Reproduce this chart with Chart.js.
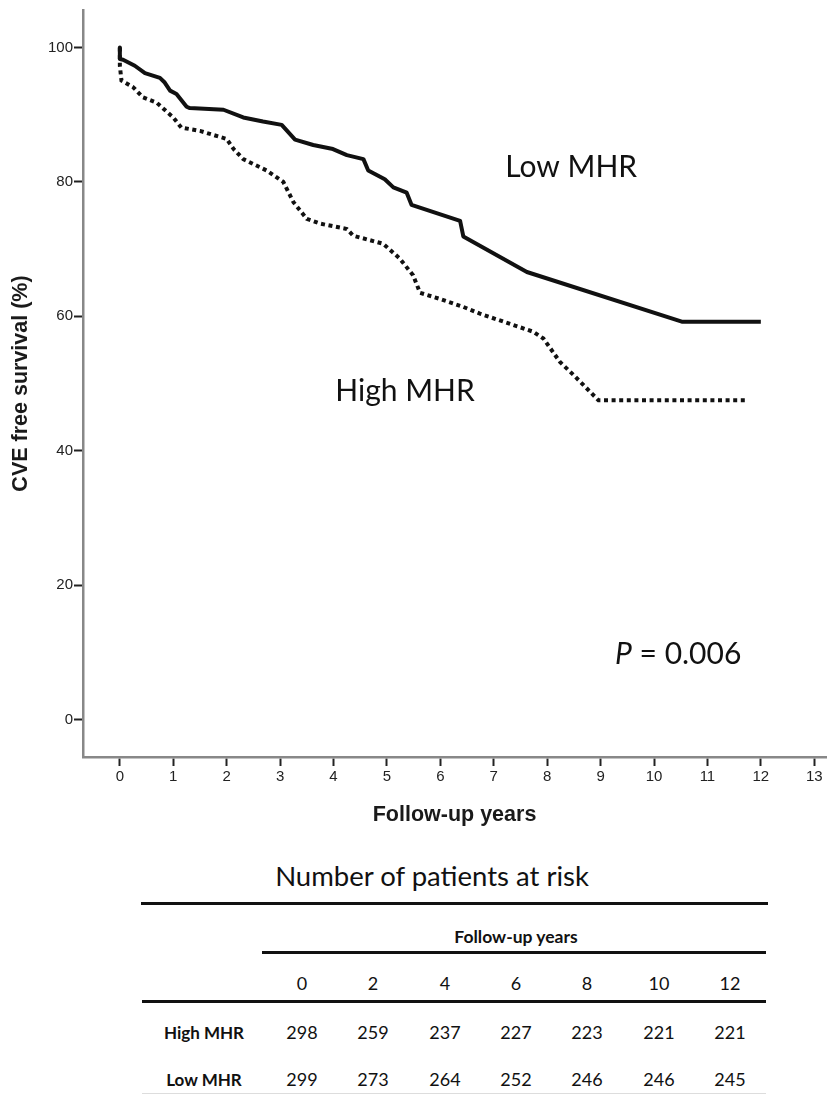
<!DOCTYPE html>
<html>
<head>
<meta charset="utf-8">
<script src="https://cdn.jsdelivr.net/npm/chart.js@4.4.0/dist/chart.umd.min.js"></script>
<style>
  body { margin: 0; background: #fff; }
  #wrap { position: relative; width: 829px; height: 1096px; overflow: hidden; }
  #km { position: absolute; left: 0; top: 0; }
  .t { position: absolute; font-family: Lato, "Noto Sans", sans-serif; color: #111; white-space: nowrap; transform: translate(-50%, -50%); }
  .rule { position: absolute; background: #111; height: 2.5px; }
</style>
</head>
<body>
<div id="wrap">
  <canvas id="km" width="829" height="845"></canvas>
</div>
<script>
// Kaplan-Meier curves (years, % free of CVE)
const lowYears = [0, 0, 0.06, 0.28, 0.47, 0.75, 0.84, 0.94, 1.06, 1.25, 1.31, 1.94, 2.31, 2.68, 3.03, 3.28, 3.62, 3.99, 4.25, 4.56, 4.65, 4.96, 5.12, 5.37, 5.46, 6.37, 6.43, 7.62, 10.52, 12.0];
const lowSurv = [100, 98.3, 98.2, 97.3, 96.2, 95.5, 94.8, 93.6, 93.1, 91.2, 91.0, 90.75, 89.6, 89.0, 88.5, 86.3, 85.5, 84.9, 84.0, 83.4, 81.7, 80.4, 79.2, 78.4, 76.6, 74.2, 71.9, 66.6, 59.2, 59.2];

const highYears = [0, 0, 0.03, 0.25, 0.43, 0.69, 1.0, 1.15, 1.5, 2.0, 2.13, 2.31, 2.75, 3.06, 3.25, 3.5, 3.75, 4.25, 4.37, 4.93, 5.24, 5.49, 5.62, 5.99, 6.43, 6.74, 7.74, 7.93, 8.24, 8.49, 8.96, 11.7];
const highSurv = [100, 97.3, 95.1, 94.1, 92.6, 91.8, 89.6, 88.1, 87.6, 86.4, 84.9, 83.4, 81.7, 80.0, 77.0, 74.5, 73.8, 73.0, 72.0, 70.8, 68.6, 66.1, 63.5, 62.6, 61.4, 60.4, 57.7, 56.7, 53.2, 51.3, 47.5, 47.5];

const xTicks = [0, 1, 2, 3, 4, 5, 6, 7, 8, 9, 10, 11, 12, 13];
const yTicks = [0, 20, 40, 60, 80, 100];

// number at risk table
const riskYears = [0, 2, 4, 6, 8, 10, 12];
const riskGroups = ["High MHR", "Low MHR"];
const riskHigh = [298, 259, 237, 227, 223, 221, 221];
const riskLow = [299, 273, 264, 252, 246, 246, 245];

function pts(xs, ys) {
  return xs.map((x, i) => ({ x: x, y: ys[i] }));
}

// text notes inside the plot, placed in data units
const notes = [
  { parts: [["Low MHR", "normal"]], x: 8.45, y: 82.2, align: "center" },
  { parts: [["High MHR", "normal"]], x: 5.34, y: 48.8, align: "center" },
  { parts: [["P", "italic"], [" = 0.006", "normal"]], x: 9.27, y: 9.75, align: "left" }
];

const notesPlugin = {
  id: "notes",
  afterDatasetsDraw(chart) {
    const ctx = chart.ctx;
    const xs = chart.scales.x, ys = chart.scales.y;
    ctx.save();
    ctx.fillStyle = "#111";
    ctx.textBaseline = "middle";
    notes.forEach(n => {
      let px = xs.getPixelForValue(n.x);
      const py = ys.getPixelForValue(n.y);
      let total = 0;
      n.parts.forEach(p => {
        ctx.font = p[1] + " 30px Lato";
        total += ctx.measureText(p[0]).width;
      });
      if (n.align === "center") px -= total / 2;
      n.parts.forEach(p => {
        ctx.font = p[1] + " 30px Lato";
        ctx.textAlign = "left";
        ctx.fillText(p[0], px, py);
        px += ctx.measureText(p[0]).width;
      });
    });
    ctx.restore();
  }
};

const axisFont = { family: "'Liberation Sans', Arial, sans-serif", size: 15 };
const titleFont = { family: "'Liberation Sans', Arial, sans-serif", size: 21.5, weight: "bold" };

new Chart(document.getElementById("km"), {
  type: "line",
  data: {
    datasets: [
      {
        label: "High MHR",
        data: pts(highYears, highSurv),
        borderColor: "#111",
        borderWidth: 4,
        borderDash: [4, 3.6],
        borderCapStyle: "butt",
        pointRadius: 0,
        tension: 0,
        order: 2
      },
      {
        label: "Low MHR",
        data: pts(lowYears, lowSurv),
        borderColor: "#111",
        borderWidth: 4,
        borderJoinStyle: "round",
        pointRadius: 0,
        tension: 0,
        order: 1
      }
    ]
  },
  options: {
    responsive: false,
    animation: false,
    layout: { padding: { top: 7, right: 3, left: 0, bottom: 0 } },
    plugins: { legend: { display: false }, tooltip: { enabled: false } },
    scales: {
      x: {
        type: "linear",
        min: -0.69,
        max: 13.22,
        afterBuildTicks: axis => { axis.ticks = xTicks.map(v => ({ value: v })); },
        afterFit: axis => { axis.height = 88; },
        ticks: { color: "#222", font: axisFont, padding: 2, autoSkip: false, maxRotation: 0 },
        grid: { drawOnChartArea: false, tickLength: 9, tickWidth: 2, tickColor: "#222" },
        border: { color: "#888", width: 2.5 },
        title: { display: true, text: "Follow-up years", color: "#1a1a1a", font: titleFont, padding: 17 }
      },
      y: {
        min: -5.6,
        max: 105.6,
        afterBuildTicks: axis => { axis.ticks = yTicks.map(v => ({ value: v })); },
        afterFit: axis => { axis.width = 83; },
        ticks: { color: "#222", font: axisFont, padding: 1 },
        grid: { drawOnChartArea: false, tickLength: 9, tickWidth: 2, tickColor: "#222" },
        border: { color: "#888", width: 2.5 },
        title: { display: true, text: "CVE free survival (%)", color: "#1a1a1a", font: titleFont, padding: 8 }
      }
    }
  },
  plugins: [notesPlugin]
});

// at-risk table below the plot
const wrap = document.getElementById("wrap");
const colX = [302, 373, 445, 516, 587, 659, 730];

function addText(txt, x, y, size, bold) {
  const d = document.createElement("div");
  d.className = "t";
  d.textContent = txt;
  d.style.left = x + "px";
  d.style.top = y + "px";
  d.style.fontSize = size + "px";
  if (bold) d.style.fontWeight = "bold";
  wrap.appendChild(d);
}

function addRule(x1, x2, y, color) {
  const d = document.createElement("div");
  d.className = "rule";
  d.style.left = x1 + "px";
  d.style.width = (x2 - x1) + "px";
  d.style.top = (y - 1) + "px";
  if (color) { d.style.background = color; d.style.height = "1px"; }
  wrap.appendChild(d);
}

addText("Number of patients at risk", 432, 875, 27.5, false);
addRule(141, 768, 903);
addText("Follow-up years", 516, 936, 17.5, true);
addRule(262, 766, 952);
riskYears.forEach((v, i) => addText(String(v), colX[i], 983, 18, false));
addRule(142, 766, 1001);
addText(riskGroups[0], 204, 1032, 17, true);
riskHigh.forEach((v, i) => addText(String(v), colX[i], 1032, 18, false));
addText(riskGroups[1], 204, 1079, 17, true);
riskLow.forEach((v, i) => addText(String(v), colX[i], 1079, 18, false));
addRule(142, 766, 1094, "#ddd");
</script>
</body>
</html>
